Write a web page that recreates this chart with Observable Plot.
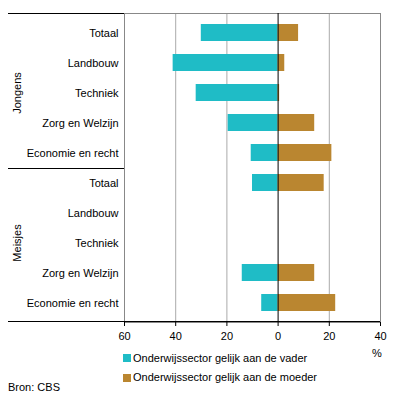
<!DOCTYPE html>
<html><head><meta charset="utf-8">
<script src="https://cdn.jsdelivr.net/npm/d3@7"></script>
<script src="https://cdn.jsdelivr.net/npm/@observablehq/plot@0.6"></script>
<style>
body{margin:0;background:#fff;font-family:"Liberation Sans",Arial,sans-serif;}
#wrap{position:relative;width:396px;height:398px;overflow:hidden;}
#wrap svg{position:absolute;left:0;top:0;font-family:"Liberation Sans",Arial,sans-serif;}
.lg{position:absolute;font-size:11px;line-height:13px;color:#000;white-space:nowrap;}
.sw{position:absolute;width:8px;height:8px;}
</style></head><body><div id="wrap"></div>
<script>
const groups = ["Jongens", "Meisjes"];
const categories = ["Totaal", "Landbouw", "Techniek", "Zorg en Welzijn", "Economie en recht"];
const jongensVader = [30, 41, 32, 19.5, 10.5];
const jongensMoeder = [8, 2.6, 0.6, 14.3, 21];
const meisjesVader = [10, null, null, 14, 6.4];
const meisjesMoeder = [18, null, null, 14.3, 22.5];
const xTicks = [-60, -40, -20, 0, 20, 40];
const seriesNames = ["Onderwijssector gelijk aan de vader", "Onderwijssector gelijk aan de moeder"];
const colors = ["#1fbcc6", "#ba8630"];

const vader = [jongensVader, meisjesVader];
const moeder = [jongensMoeder, meisjesMoeder];
const rows = [];
groups.forEach((g, gi) => categories.forEach((c, ci) => {
  rows.push({key: g + "|" + c, group: g, category: c, father: vader[gi][ci], mother: moeder[gi][ci]});
}));
const keys = rows.map(d => d.key);

const plot = Plot.plot({
  width: 396, height: 346,
  marginLeft: 124, marginRight: 16, marginTop: 13, marginBottom: 24,
  style: {fontSize: "11px", fontFamily: "Liberation Sans, Arial, sans-serif", background: "transparent"},
  x: {domain: [-60, 40]},
  y: {domain: keys, paddingInner: 0.42, paddingOuter: 0.21},
  marks: [
    Plot.gridX([-40, -20, 20], {stroke: "#aaa", strokeOpacity: 1}),
    Plot.frame({stroke: "#888"}),
    Plot.barX(rows.filter(d => d.father != null), {y: "key", x1: 0, x2: d => -d.father, fill: colors[0]}),
    Plot.barX(rows.filter(d => d.mother != null), {y: "key", x1: 0, x2: d => d.mother, fill: colors[1]}),
    Plot.ruleX([0], {stroke: "#000"}),
    Plot.axisX({ticks: xTicks, tickFormat: d => Math.abs(d), tickSize: 4, tickPadding: 6, label: null, fontSize: 11}),
    Plot.axisY({tickSize: 0, tickPadding: 6, tickFormat: d => d.split("|")[1], label: null, fontSize: 11}),
    Plot.text(groups, {y: g => g + "|Techniek", text: d => d, frameAnchor: "left", textAnchor: "middle", rotate: -90, dx: -107, fontSize: 11})
  ]
});

const ys = plot.scale("y"), xs = plot.scale("x");
const svg = d3.select(plot);
const yTop = ys.range[0], yBottom = ys.range[1];
const sepY = ys.apply("Jongens|Economie en recht") + ys.bandwidth + (ys.step - ys.bandwidth) / 2;
const x0 = 8, xL = xs.apply(-60), xR = xs.apply(40);
[[x0, xL, yTop], [x0, xL, sepY], [x0, xR, yBottom - 1]].forEach(([a, b, y]) => {
  svg.append("line").attr("x1", a).attr("x2", b).attr("y1", Math.round(y) + 0.5).attr("y2", Math.round(y) + 0.5)
    .attr("stroke", "#000").attr("stroke-width", 1);
});

const wrap = document.getElementById("wrap");
wrap.appendChild(plot);

function addText(txt, left, topPx) {
  const d = document.createElement("div");
  d.className = "lg"; d.textContent = txt; d.style.left = left + "px"; d.style.top = topPx + "px";
  wrap.appendChild(d);
}
seriesNames.forEach((n, i) => {
  const s = document.createElement("div");
  s.className = "sw"; s.style.background = colors[i];
  s.style.left = "123px"; s.style.top = (354 + i * 19.5) + "px";
  wrap.appendChild(s);
  addText(n, 133, 351.5 + i * 19.5);
});
addText("%", 372, 347);
addText("Bron: CBS", 8, 381);
</script></body></html>
